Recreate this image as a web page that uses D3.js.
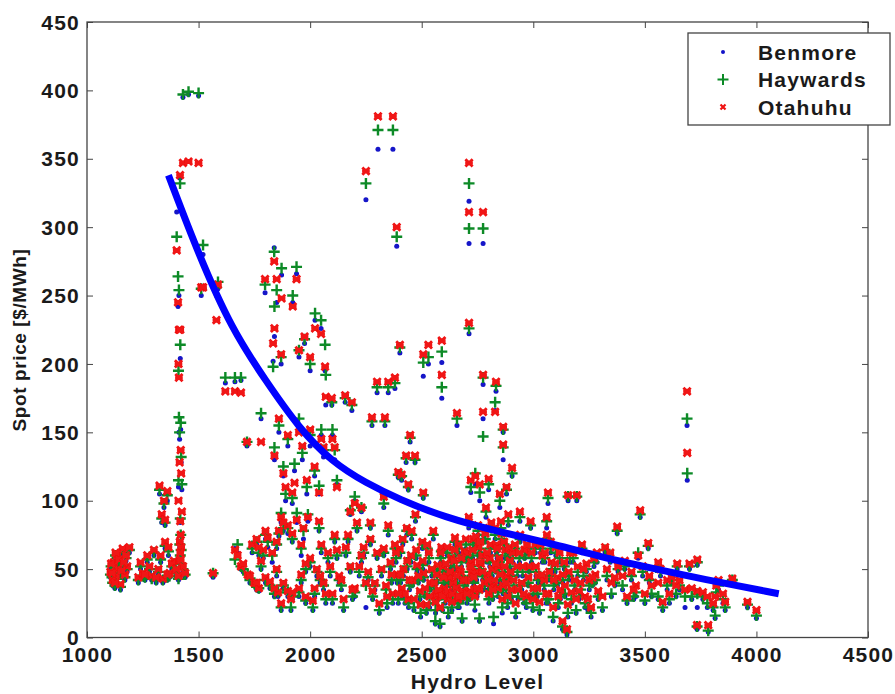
<!DOCTYPE html>
<html>
<head>
<meta charset="utf-8">
<script src="https://cdn.jsdelivr.net/npm/d3@7"></script>
<style>
  body { margin: 0; background: #fff; }
  text { font-family: Arial, "Liberation Sans", sans-serif; font-weight: bold; fill: #1a1a1a; }
</style>
</head>
<body>
<svg id="chart" width="895" height="694"></svg>
<script>
// Data: one row per hydro level, one price per node
const hydroLevel = [
  1105,1115,1120,1130,1135,1140,1150,1160,1170,1180,1190,
  1230,1250,1270,1290,1300,1320,1340,1350,1370,1390,1410,1430,1440,
  1325,1335,1345,1350,1360,1365,
  1402,1408,1412,1417,1430,1455,1500,1410,1418,1412,1420,1415,1422,1410,1425,1418,1420,1416,1422,1418,
  1512,1520,1587,1580,1565,
  1620,1663,1690,1717,1780,1663,1675,1690,1720,1750,1770,1856,1900,1870,1914,1950,2012,1980,1740,1760,1790,1810,1830,1870,1900,1940,1970,1990,1860,
  1798,1839,1850,1872,1922,1939,2022,2049,1840,
  1834,1870,1950,1975,2067,2070,2000,
  1840,1860,1880,1900,1930,1950,1965,1985,2000,2020,2040,2050,2060,1890,1920,
  2097,2157,2187,2277,2335,2300,2350,2380,2402,2448,2430,2470,2395,2410,2440,2507,2507,2530,2590,2590,2658,2250,2304,2371,2388,2712,2712,2775,2712,2100,2110,2120,2200,2230,2180,2270,2330,
  2775,2833,2829,2775,2865,2865,2905,2720,2740,2760,2800,2850,2880,3066,3156,3195,3060,2940,
  3689,3690,3479,3376,3515,3322,3470,3560,3645,3700,3735,3892,3960,4000,3734,3784,3680,3735,3760,3806,3815,3820,3850,3600,3620,3560,3580,3640,3520,3500,3460,3440,3420,3400,3380,3350,3330,3310,
  2402,2411,2418,2433,2441,2452,2458,2472,2479,2492,2503,2508,2521,2532,2538,2552,2561,2566,2571,2582,2588,2601,2612,2619,2632,2641,2649,2662,2668,2681,2692,2699,2711,2716,2722,2731,2738,2746,2752,2759,2771,2782,2788,2801,2808,2816,2822,2829,2842,2848,2861,2869,2881,2888,2902,2908,2921,2929,2941,2948,2961,2969,2982,2988,3001,3009,3022,3028,3041,3049,3061,3068,3082,3089,3101,3108,3121,3131,3139,3151,3159,3171,3179,3192,3199,3212,3218,3232,3238,3251,3259,3272,3278,3291,
  2080,2100,2110,2130,2150,2160,2180,2200,2210,2230,2250,2260,2270,2290,2300,2310,2320,2340,2350,2360,2370,2380,2390,2030,2050,2060,2000,2040,1960,1980,
  2705,2725,2735,2755,2765,2785,2795,2805,2825,2835,2845,2855,2865,2875,2885,2895,2595,2605,2615,2625,2635,2645,2655,2665,2675,2685,
  1108,1112,1125,1128,1145,1155,1165,1175,1240,1260,1280,1310,1330,1360,1380,1400,1420,
  1700,1730,1760,1800,1820,1840,1880,1920,1960,1780,1850,1770,1800,1850,1880,1920,
  2405,2415,2425,2435,2445,2455,2465,2475,2485,2495,2505,2515,2525,2535,2545,2555,2562,2568,2575,2585,
  2593,2598,2608,2618,2628,2638,2648,2658,2668,2678,2688,2698,2703,2718,2728,2733,2743,2748,2758,2763,
  2773,2778,2793,2798,2812,2818,2832,2838,2852,2858,2872,2878,2892,2898,2912,2918,2932,2938,2952,2958,
  2972,2978,2992,2998,3012,3018,3032,3038,3052,3058,3072,3078,3092,3098,3112,3118,3132,3142,3155,3165,
  3185,3205,3225,3245,3265,3285,
  2020,2045,2070,2090,2120,2140,2170,2190,2220,2240,2280,2330,2345,2365,2385,2395,
  3345,3365,3410,3450,3490,3530,3570,3610,3655,3710,3780,3830,3860
];

const benmorePrice = [
  44,38,50,40,55,46,35,60,42,48,62,
  40,44,55,42,60,46,40,65,44,52,42,48,44,
  105,84,95,82,100,60,
  311,242,250,336,395,397,396,190,204,150,152,145,128,110,108,84,70,66,62,58,
  250,280,255,250,44,
  186,187,188,140,160,65,62,50,44,38,34,30,30,20,20,30,20,25,62,68,58,66,55,84,76,84,72,85,74,
  252,285,245,265,245,266,232,226,220,
  202,200,205,215,195,170,195,
  130,150,118,140,122,155,130,105,140,118,105,148,132,100,98,
  170,172,166,155,155,179,179,182,208,143,128,128,117,115,108,102,191,200,201,175,155,320,357,357,286,319,288,288,222,148,130,112,100,92,90,80,95,
  185,180,166,160,150,130,118,106,112,100,108,95,105,98,100,100,80,85,
  155,115,88,76,65,62,58,50,50,50,53,40,22,14,6,4,22,22,28,20,14,30,25,35,40,28,20,30,40,25,30,42,25,35,48,30,42,20,
  60,30,45,75,22,55,38,85,48,28,65,42,18,55,35,72,10,25,48,8,60,30,40,15,52,35,68,22,45,12,58,38,80,28,50,65,20,42,75,12,55,35,88,25,62,45,10,72,30,52,18,65,40,82,28,55,15,45,70,35,58,22,48,80,30,62,40,18,55,35,70,25,48,12,60,38,28,6,50,2,42,25,55,18,45,32,62,22,48,35,15,52,40,28,
  55,25,70,40,20,60,48,30,78,55,22,42,68,35,58,18,45,30,75,50,25,62,40,45,62,35,52,78,60,48,
  55,42,30,60,48,70,40,52,35,62,45,78,32,58,22,50,45,25,60,38,20,50,30,62,42,28,
  50,42,36,58,52,44,50,56,50,42,48,40,55,42,50,45,52,
  48,40,35,40,36,30,36,28,40,50,45,60,72,65,78,70,
  40,68,25,50,35,72,20,58,40,15,50,30,62,22,45,32,18,40,28,55,
  20,38,48,28,42,25,58,38,22,52,35,65,25,45,58,38,68,30,48,62,
  42,72,55,35,78,28,48,58,40,70,45,32,60,42,35,62,28,55,45,25,
  62,38,55,20,45,30,62,40,55,25,42,62,35,48,22,55,40,30,15,55,
  35,28,42,20,38,55,
  30,40,25,45,58,35,70,28,45,60,28,60,22,40,55,25,
  55,38,50,28,45,30,45,25,35,28,22,35,20
];

const haywardsPrice = [
  46,40,52,43,58,47,37,62,44,50,64,
  42,45,57,43,62,48,42,67,45,54,43,50,46,
  108,87,98,84,104,63,
  293,264,254,332,397,399,398,195,214,161,157,150,132,115,112,87,75,68,64,60,
  255,287,260,256,47,
  190,190,190,143,164,57,68,52,46,40,36,33,33,22,22,33,22,27,65,70,60,70,60,91,80,91,78,90,76,
  258,282,254,270,250,271,237,232,242,
  198,205,210,218,214,192,200,
  139,155,125,145,127,160,135,110,148,122,111,152,137,105,102,
  172,175,170,158,158,183,183,186,212,146,131,130,119,118,110,104,201,205,209,183,160,332,371,371,293,332,299,299,226,152,137,115,103,95,93,82,98,
  190,184,172,147,152,139,120,110,120,106,112,100,108,102,103,103,85,88,
  160,120,90,78,67,64,62,52,52,52,55,42,24,16,8,5,30,32,30,22,16,33,28,38,42,30,22,32,42,27,33,45,27,38,50,32,45,22,
  62,33,48,78,25,58,40,88,50,30,68,44,20,58,37,75,12,28,50,10,63,33,42,18,55,38,70,25,48,14,60,40,84,30,52,68,24,45,78,14,58,38,92,28,65,48,15,75,33,55,22,68,42,85,30,58,18,48,72,38,60,25,50,82,32,65,42,20,58,38,72,28,50,15,62,40,30,8,52,4,45,28,58,20,48,35,65,25,50,38,18,55,42,30,
  58,28,72,42,22,62,50,33,80,58,38,44,70,38,60,20,48,35,78,52,28,65,42,48,65,38,55,80,65,50,
  58,45,32,62,50,72,42,55,38,65,48,80,35,60,25,52,48,28,62,40,22,52,32,65,45,30,
  52,44,38,60,54,46,52,58,52,44,50,42,57,44,52,47,54,
  50,42,37,42,38,32,38,30,42,52,48,62,75,68,80,72,
  42,70,28,52,38,75,22,60,42,18,53,32,65,25,48,35,20,42,30,58,
  22,40,50,30,45,28,60,40,25,55,38,68,28,48,60,40,70,33,50,65,
  45,75,58,38,80,30,50,60,42,72,48,35,62,45,38,65,30,58,48,28,
  65,40,58,22,48,32,65,42,58,28,45,65,38,50,25,58,42,32,18,58,
  38,30,45,22,40,58,
  32,42,28,48,60,38,72,30,48,62,30,62,25,42,58,28,
  58,40,52,30,48,32,48,28,38,30,25,38,22
];

const otahuhuPrice = [
  48,42,55,45,60,50,39,65,46,52,66,
  44,47,60,45,64,50,43,70,47,56,45,52,47,
  111,90,100,86,107,66,
  283,245,225,338,347,348,347,200,225,190,137,128,120,100,92,85,75,70,66,62,
  256,256,258,232,47,
  180,180,179,143,143,64,60,52,46,40,36,33,34,25,28,36,27,30,68,72,64,73,62,88,82,86,80,88,78,
  262,275,262,248,242,262,226,222,226,
  215,207,210,220,198,176,205,
  133,160,120,148,113,150,140,115,152,125,106,145,139,110,106,
  175,177,172,161,161,187,187,190,214,148,133,133,121,119,112,106,207,214,217,192,164,341,381,381,300,347,311,311,230,145,139,110,98,95,92,84,103,
  192,187,165,165,154,141,124,115,118,112,116,105,110,106,104,104,88,92,
  180,135,93,81,69,66,60,55,54,54,57,43,26,20,9,9,35,34,33,25,30,38,32,42,44,40,26,38,45,32,38,48,30,45,52,40,50,30,
  65,36,50,80,28,60,42,90,53,34,70,47,24,62,40,78,30,32,53,22,66,36,45,28,58,40,73,28,50,30,63,42,88,34,55,72,30,48,82,35,60,40,95,32,68,50,38,80,36,58,28,70,45,90,35,62,25,52,75,40,64,30,52,85,36,68,45,26,60,42,75,32,55,22,66,44,35,12,55,6,48,33,62,28,52,40,68,30,54,42,22,58,46,34,
  62,32,75,45,28,66,52,36,84,60,40,48,72,40,62,25,50,38,82,55,32,68,46,50,68,40,58,85,68,54,
  62,48,35,66,54,76,46,58,42,68,52,85,38,64,30,56,52,32,66,44,26,56,36,68,48,34,
  54,47,40,62,57,49,55,60,55,46,52,44,60,46,54,50,57,
  54,45,40,44,41,36,40,33,46,56,50,66,78,70,84,76,
  46,72,32,56,42,78,28,64,45,24,56,36,68,30,50,40,26,46,35,62,
  30,44,54,34,48,32,64,45,30,58,42,72,32,52,64,44,74,36,55,70,
  48,80,62,42,84,35,54,65,46,76,52,40,66,48,42,68,35,62,52,32,
  68,44,62,28,52,36,68,46,62,32,48,70,42,54,30,62,46,38,24,62,
  42,34,50,28,44,62,
  36,45,32,52,64,42,75,35,52,66,34,65,30,46,62,32,
  62,44,56,35,52,38,50,32,42,36,30,42,26
];

// Fitted trend line
const fitHydro = [1365, 1500, 1650, 1800, 1950, 2100, 2250, 2400, 2600, 2850, 3100, 3300, 3550, 3750, 4100];
const fitPrice = [338, 280, 225, 188, 153, 128, 113, 101, 88, 77, 68, 59, 50, 43, 32];

const xTicks = [1000, 1500, 2000, 2500, 3000, 3500, 4000, 4500];
const yTicks = [0, 50, 100, 150, 200, 250, 300, 350, 400, 450];
const seriesNames = ["Benmore", "Haywards", "Otahuhu"];

const svg = d3.select("#chart");

const plotLeft = 87, plotRight = 868, plotTop = 22, plotBottom = 637.5;

const x = d3.scaleLinear().domain([1000, 4500]).range([plotLeft, plotRight]);
const y = d3.scaleLinear().domain([0, 450]).range([plotBottom, plotTop]);

const blue = "#1212c8", green = "#0b8a26", red = "#f01212";

// Axes, MATLAB style: ticks inside on all four sides
const fontSize = 21;
const fmt = d3.format("d");

function styleAxis(g) {
    g.select(".domain").remove();
    g.selectAll(".tick line").attr("stroke", "#444").attr("stroke-width", 1);
    g.selectAll(".tick text")
        .attr("font-size", fontSize)
        .attr("letter-spacing", 1.2)
        .attr("fill", "#1a1a1a");
}

svg.append("g")
    .attr("transform", `translate(0,${plotBottom})`)
    .call(d3.axisBottom(x).tickValues(xTicks).tickFormat(fmt).tickSizeInner(-6).tickSizeOuter(0).tickPadding(10))
    .call(styleAxis);

svg.append("g")
    .attr("transform", `translate(${plotLeft},0)`)
    .call(d3.axisLeft(y).tickValues(yTicks).tickFormat(fmt).tickSizeInner(-6).tickSizeOuter(0).tickPadding(7))
    .call(styleAxis)
    .selectAll(".tick text").attr("dy", "0.34em");

svg.append("g")
    .attr("transform", `translate(0,${plotTop})`)
    .call(d3.axisTop(x).tickValues(xTicks).tickSizeInner(-6).tickSizeOuter(0).tickFormat(""))
    .call(styleAxis);

svg.append("g")
    .attr("transform", `translate(${plotRight},0)`)
    .call(d3.axisRight(y).tickValues(yTicks).tickSizeInner(-6).tickSizeOuter(0).tickFormat(""))
    .call(styleAxis);

svg.append("rect")
    .attr("x", plotLeft).attr("y", plotTop)
    .attr("width", plotRight - plotLeft).attr("height", plotBottom - plotTop)
    .attr("fill", "none").attr("stroke", "#444").attr("stroke-width", 1.3);

// Axis titles
svg.append("text")
    .attr("x", (plotLeft + plotRight) / 2)
    .attr("y", 689)
    .attr("text-anchor", "middle")
    .attr("font-size", fontSize)
    .attr("letter-spacing", 1.2)
    .text("Hydro Level");

svg.append("text")
    .attr("transform", `translate(26,340) rotate(-90)`)
    .attr("text-anchor", "middle")
    .attr("font-size", 19)
    .attr("letter-spacing", 0.6)
    .text("Spot price [$/MWh]");

// Markers
const plusPath = "M-5.5,0H5.5M0,-5.5V5.5";
const crossPath = "M-3.6,-3.6L3.6,3.6M-3.6,3.6L3.6,-3.6M-3.8,0H3.8M0,-2.5V2.5";

svg.append("clipPath").attr("id", "plot-clip")
    .append("rect")
    .attr("x", plotLeft).attr("y", plotTop)
    .attr("width", plotRight - plotLeft).attr("height", plotBottom - plotTop);

const soften = svg.append("filter").attr("id", "soften");
soften.append("feGaussianBlur").attr("stdDeviation", 0.45);

const points = svg.append("g")
    .attr("clip-path", "url(#plot-clip)")
    .append("g")
    .attr("filter", "url(#soften)");

points.append("g").selectAll("circle")
    .data(hydroLevel.map((h, i) => [h, benmorePrice[i]]))
    .enter()
    .append("circle")
    .attr("cx", d => x(d[0]))
    .attr("cy", d => y(d[1]))
    .attr("r", 2.5)
    .attr("fill", blue);

points.append("g").selectAll("path")
    .data(hydroLevel.map((h, i) => [h, haywardsPrice[i]]))
    .enter()
    .append("path")
    .attr("d", plusPath)
    .attr("transform", d => `translate(${x(d[0])},${y(d[1])})`)
    .attr("stroke", green)
    .attr("stroke-width", 2.4);

points.append("g").selectAll("path")
    .data(hydroLevel.map((h, i) => [h, otahuhuPrice[i]]))
    .enter()
    .append("path")
    .attr("d", crossPath)
    .attr("transform", d => `translate(${x(d[0])},${y(d[1])})`)
    .attr("stroke", red)
    .attr("stroke-width", 2.8);

// Trend curve
const fitLine = d3.line()
    .x(d => x(d[0]))
    .y(d => y(d[1]))
    .curve(d3.curveBasis);

svg.append("path")
    .datum(fitHydro.map((h, i) => [h, fitPrice[i]]))
    .attr("d", fitLine)
    .attr("fill", "none")
    .attr("stroke", "#0000ff")
    .attr("stroke-width", 7);

// Legend
const legend = svg.append("g");

legend.append("rect")
    .attr("x", 688).attr("y", 33)
    .attr("width", 202).attr("height", 92)
    .attr("fill", "#fff")
    .attr("stroke", "#444")
    .attr("stroke-width", 1.3);

const legendRows = legend.selectAll("g.row")
    .data(seriesNames)
    .enter()
    .append("g")
    .attr("class", "row")
    .attr("transform", (d, i) => `translate(723,${52 + i * 27.5})`);

legendRows.append("text")
    .attr("x", 35)
    .attr("dy", "0.36em")
    .attr("font-size", fontSize)
    .attr("letter-spacing", 1.2)
    .text(d => d);

legendRows.filter((d, i) => i === 0).append("circle").attr("r", 2).attr("fill", blue);
legendRows.filter((d, i) => i === 1).append("path").attr("d", plusPath).attr("stroke", green).attr("stroke-width", 2);
legendRows.filter((d, i) => i === 2).append("path").attr("d", "M-2.5,-2.5L2.5,2.5M-2.5,2.5L2.5,-2.5").attr("stroke", red).attr("stroke-width", 2.2);
</script>
</body>
</html>
